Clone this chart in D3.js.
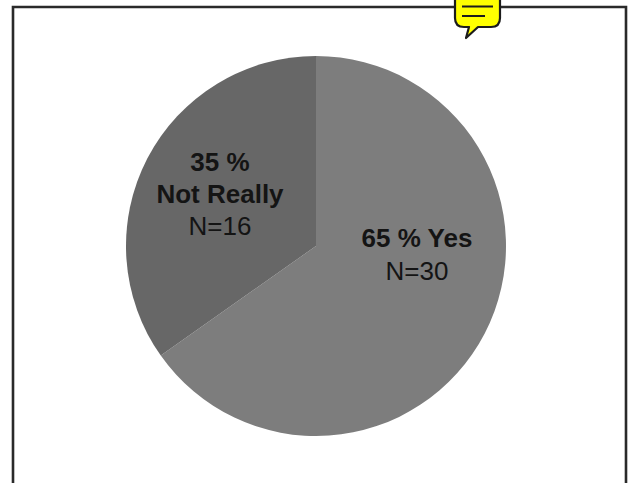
<!DOCTYPE html>
<html>
<head>
<meta charset="utf-8">
<script src="https://cdn.jsdelivr.net/npm/d3@7/dist/d3.min.js"></script>
<style>
html,body{margin:0;padding:0;background:#fff;overflow:hidden}
svg{display:block}
text{font-family:"Liberation Sans",Arial,sans-serif;fill:#141414}
</style>
</head>
<body>
<script>
// Survey responses and their printed labels
const categories = ["Yes", "Not Really"];
const counts = [30, 16];
const percentLabels = ["65 %", "35 %"];
const countLabels = ["N=30", "N=16"];
const sliceColors = ["#7d7d7d", "#676767"];

const width = 629, height = 483;
const svg = d3.select("body").append("svg").attr("width", width).attr("height", height);

svg.append("rect").attr("width", width).attr("height", height).attr("fill", "#fff");

// Page frame, running off the bottom edge
svg.append("path")
  .attr("d", d3.line()([[13, height + 4], [13, 7], [626, 7], [626, height + 4]]))
  .attr("fill", "none").attr("stroke", "#2a2a2a").attr("stroke-width", 2.6);

// Pie, starting at twelve o'clock and going clockwise
const cx = 316, cy = 246, radius = 190;
const pie = d3.pie().sort(null).value(d => d);
const arc = d3.arc().innerRadius(0).outerRadius(radius);
const chart = svg.append("g").attr("transform", `translate(${cx},${cy})`);
chart.selectAll("path").data(pie(counts)).join("path")
  .attr("d", arc)
  .attr("fill", (d, i) => sliceColors[i]);

// Slice labels
const bold = {size: 26, weight: 700};
const regular = {size: 26, weight: 400};
const labelLines = [
  {x: 417, y: 247, text: `${percentLabels[0]} ${categories[0]}`, ...bold},
  {x: 417, y: 280, text: countLabels[0], ...regular},
  {x: 220, y: 171, text: percentLabels[1], ...bold},
  {x: 220, y: 203, text: categories[1], ...bold},
  {x: 220, y: 235, text: countLabels[1], ...regular}
];
svg.selectAll("text.label").data(labelLines).join("text")
  .attr("class", "label")
  .attr("x", d => d.x).attr("y", d => d.y)
  .attr("text-anchor", "middle")
  .attr("font-size", d => d.size)
  .attr("font-weight", d => d.weight)
  .text(d => d.text);

// Yellow comment marker clipped by the top of the page
const note = svg.append("g");
note.append("path")
  .attr("d", "M455,-6 H500 V18 Q500,27 491,27 H478 L466,38 L469,27 H464 Q455,27 455,18 Z")
  .attr("fill", "#ffff00").attr("stroke", "#1c1c1c").attr("stroke-width", 2.2).attr("stroke-linejoin", "round");
note.append("path").attr("d", "M462,6.5 H493 M462,16 H485")
  .attr("stroke", "#1c1c1c").attr("stroke-width", 2).attr("fill", "none");
</script>
</body>
</html>
